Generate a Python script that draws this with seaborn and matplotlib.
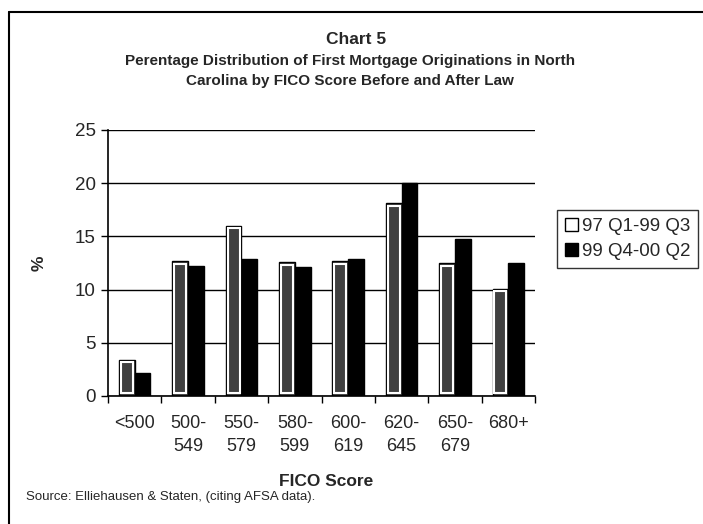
import matplotlib
matplotlib.use("Agg")
import matplotlib.pyplot as plt
import seaborn as sns
import pandas as pd
from matplotlib.patches import Patch, Rectangle
from matplotlib.lines import Line2D
from matplotlib.ticker import FixedLocator

# data
scores = ["<500", "500-\n549", "550-\n579", "580-\n599", "600-\n619", "620-\n645", "650-\n679", "680+"]
before = [3.4, 12.7, 16.0, 12.6, 12.7, 18.1, 12.5, 10.1]
after = [2.2, 12.2, 12.9, 12.1, 12.9, 20.0, 14.8, 12.5]
periods = ["97 Q1-99 Q3", "99 Q4-00 Q2"]

df = pd.DataFrame({
    "score": scores * 2,
    "pct": before + after,
    "period": [periods[0]] * len(scores) + [periods[1]] * len(scores),
})

sns.set_style("white")
plt.rcParams["font.family"] = ["Liberation Sans", "DejaVu Sans"]

fig = plt.figure(figsize=(7.03, 5.24), dpi=100)
ax = fig.add_axes([108 / 703, 1 - 396 / 524, 427 / 703, 266 / 524])

sns.barplot(data=df, x="score", y="pct", hue="period", ax=ax,
            palette=["#404040", "#000000"], width=0.59, gap=0,
            edgecolor="black", linewidth=1, saturation=1, legend=False)

# white inner outline on the first series, like the scanned original
for p in ax.containers[0]:
    x, y = p.get_x(), p.get_y()
    w, h = p.get_width(), p.get_height()
    ax.add_patch(Rectangle((x + 0.035, y + 0.25), w - 0.07, h - 0.5,
                           fill=False, edgecolor="white", lw=1.5, zorder=3))

ax.set_ylim(0, 25)
ax.set_xlim(-0.5, len(scores) - 0.5)
ax.set_yticks(range(0, 26, 5))
ax.yaxis.grid(True, color="black", lw=1)
ax.set_axisbelow(True)
for s in ["top", "right"]:
    ax.spines[s].set_visible(False)
for s in ["left", "bottom"]:
    ax.spines[s].set_color("black")
    ax.spines[s].set_linewidth(1.2)

ax.tick_params(axis="y", which="major", direction="out", length=5, width=1,
               color="black", labelsize=13.5, pad=4, left=True)
ax.tick_params(axis="x", which="major", length=0, labelsize=13, pad=14)
ax.xaxis.set_minor_locator(FixedLocator([i - 0.5 for i in range(len(scores) + 1)]))
ax.tick_params(axis="x", which="minor", direction="out", length=5, width=1,
               color="black", bottom=True)
for lab in ax.get_xticklabels():
    lab.set_linespacing(1.4)

ax.set_xlabel("")
ax.set_ylabel("%", fontsize=12.5, fontweight="bold", labelpad=20)

fig.text(356 / 703, 1 - 39 / 524, "Chart 5", ha="center", va="center",
         fontsize=12.5, fontweight="bold")
fig.text(350 / 703, 1 - 71 / 524,
         "Perentage Distribution of First Mortgage Originations in North\n"
         "Carolina by FICO Score Before and After Law",
         ha="center", va="center", fontsize=11, fontweight="bold", linespacing=1.55)
fig.text(326 / 703, 1 - 481 / 524, "FICO Score", ha="center", va="center",
         fontsize=12.5, fontweight="bold")
fig.text(26 / 703, 1 - 497 / 524, "Source: Elliehausen & Staten, (citing AFSA data).",
         ha="left", va="center", fontsize=9.5)

handles = [Patch(facecolor="white", edgecolor="black", lw=1),
           Patch(facecolor="black", edgecolor="black", lw=1)]
leg = fig.legend(handles, periods, loc="upper left",
                 bbox_to_anchor=(557 / 703, 1 - 210 / 524), fontsize=13.5,
                 frameon=True, fancybox=False, edgecolor="black",
                 handlelength=0.7, handleheight=0.7, handletextpad=0.25,
                 borderpad=0.4, labelspacing=0.45, borderaxespad=0)
leg.get_frame().set_linewidth(1)

# page frame (left and top edges of the scanned box)
fig.add_artist(Line2D([9 / 703, 9 / 703], [0, 1 - 12 / 524], transform=fig.transFigure,
                      color="black", lw=1.5))
fig.add_artist(Line2D([9 / 703, 1], [1 - 12 / 524, 1 - 12 / 524], transform=fig.transFigure,
                      color="black", lw=1.5))

fig.savefig("out.png", dpi=100, facecolor="white")
